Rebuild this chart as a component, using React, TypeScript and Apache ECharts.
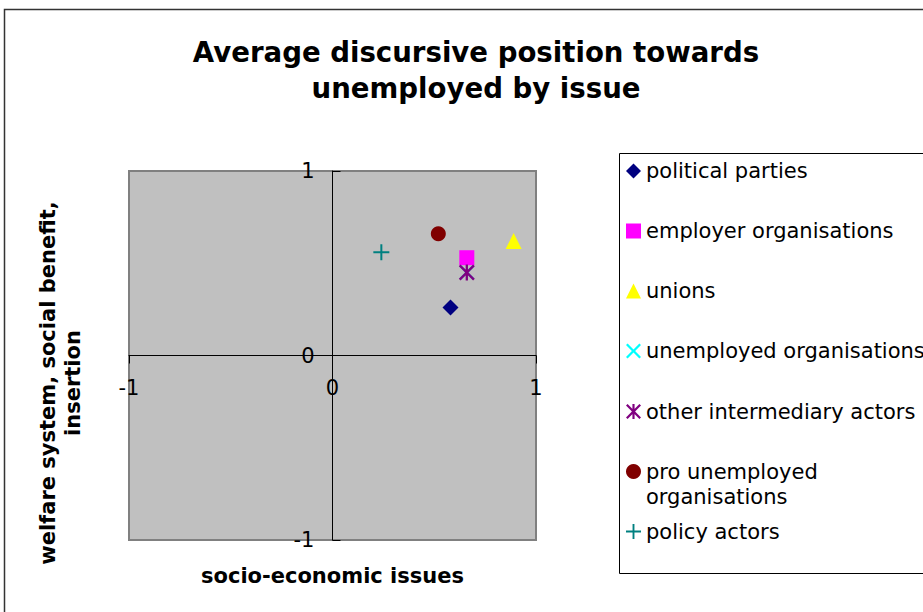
import React, { useEffect, useRef } from 'react';
import * as echarts from 'echarts';

const seriesNames = [
  'political parties',
  'employer organisations',
  'unions',
  'unemployed organisations',
  'other intermediary actors',
  'pro unemployed organisations',
  'policy actors',
];
const xValues = [0.58, 0.66, 0.89, 0.66, 0.66, 0.52, 0.24];
const yValues = [0.26, 0.53, 0.62, 0.45, 0.45, 0.66, 0.56];
const xTicks = [-1, 0, 1];
const yTicks = [-1, 0, 1];

const X_PATH =
  'path://M1.5,0 L7,5.5 L12.5,0 L14,1.5 L8.5,7 L14,12.5 L12.5,14 L7,8.5 L1.5,14 L0,12.5 L5.5,7 L0,1.5 Z';
const STAR_PATH =
  'path://M1.5,0 L7,5.5 L12.5,0 L14,1.5 L8.5,7 L14,12.5 L12.5,14 L7,8.5 L1.5,14 L0,12.5 L5.5,7 L0,1.5 Z M6,0 L8,0 L8,14 L6,14 Z';
const PLUS_PATH = 'path://M7,0 L9,0 L9,7 L16,7 L16,9 L9,9 L9,16 L7,16 L7,9 L0,9 L0,7 L7,7 Z';

const symbols = ['diamond', 'rect', 'triangle', X_PATH, STAR_PATH, 'circle', PLUS_PATH];
const colors = ['#000080', '#FF00FF', '#FFFF00', '#00FFFF', '#800080', '#800000', '#008080'];
const sizes = [16, 15, 16, 15, 16, 15, 16];
const legendCenters = [171, 231, 291, 351, 411.5, 471.5, 531.5];

const F = '"DejaVu Sans", Verdana, sans-serif';

const GRID_LEFT = 129;
const GRID_TOP = 171;
const GRID_W = 407;
const GRID_H = 369;

export default function App() {
  const ref = useRef<HTMLDivElement>(null);
  useEffect(() => {
    if (!ref.current) return;
    const chart = echarts.init(ref.current, undefined, { renderer: 'svg' });
    const legends = seriesNames.map((n, i) => {
      const multi = n === 'pro unemployed organisations';
      return {
        data: [n],
        orient: 'vertical',
        left: 626,
        top: multi ? legendCenters[i] - 37.5 : legendCenters[i] - 12,
        padding: 0,
        itemWidth: 15,
        itemHeight: 15,
        itemGap: 0,
        selectedMode: false,
        formatter: multi ? () => '\npro unemployed\norganisations' : undefined,
        textStyle: multi
          ? { fontFamily: F, fontSize: 21, color: '#000', lineHeight: 25 }
          : { fontFamily: F, fontSize: 21, color: '#000', lineHeight: 24 },
      };
    });
    const option = {
      animation: false,
      backgroundColor: '#ffffff',
      title: {
        text: 'Average discursive position towards\nunemployed by issue',
        left: 476,
        top: 34,
        padding: 0,
        textAlign: 'center',
        textStyle: { fontFamily: F, fontSize: 27.6, fontWeight: 'bold', color: '#000', lineHeight: 36 },
      },
      grid: {
        left: GRID_LEFT,
        top: GRID_TOP,
        width: GRID_W,
        height: GRID_H,
        show: true,
        containLabel: false,
        outerBoundsMode: 'none',
        backgroundColor: '#C0C0C0',
        borderColor: '#808080',
        borderWidth: 2,
      },
      xAxis: {
        type: 'value',
        position: 'bottom',
        offset: -GRID_H / 2,
        min: xTicks[0],
        max: xTicks[xTicks.length - 1],
        interval: 1,
        axisLine: { onZero: false, lineStyle: { color: '#000', width: 1 } },
        axisTick: { show: true, length: 8, lineStyle: { color: '#000', width: 1 } },
        axisLabel: { margin: 22, fontFamily: F, fontSize: 21, color: '#000' },
        splitLine: { show: false },
        name: 'socio-economic issues',
        nameLocation: 'middle',
        nameGap: 210,
        nameTextStyle: { fontFamily: F, fontSize: 21, fontWeight: 'bold', color: '#000' },
      },
      yAxis: {
        type: 'value',
        position: 'left',
        offset: -GRID_W / 2,
        min: yTicks[0],
        max: yTicks[yTicks.length - 1],
        interval: 1,
        axisLine: { onZero: false, lineStyle: { color: '#000', width: 1 } },
        axisTick: { show: true, inside: true, length: 8, lineStyle: { color: '#000', width: 1 } },
        axisLabel: { margin: 18, fontFamily: F, fontSize: 21, color: '#000' },
        splitLine: { show: false },
      },
      graphic: [
        {
          type: 'rect',
          shape: { x: 4.5, y: 9.5, width: 1000, height: 700 },
          style: { fill: 'none', stroke: '#333', lineWidth: 1.5 },
          silent: true,
        },
        {
          type: 'rect',
          shape: { x: 619.5, y: 153.5, width: 400, height: 420 },
          style: { fill: 'none', stroke: '#000', lineWidth: 1 },
          silent: true,
        },
        {
          type: 'text',
          x: 60.5,
          y: 383,
          rotation: Math.PI / 2,
          style: {
            text: 'welfare system, social benefit,\ninsertion',
            fontFamily: F,
            fontSize: 21,
            fontWeight: 'bold',
            fill: '#000',
            align: 'center',
            verticalAlign: 'middle',
            lineHeight: 25,
          },
          silent: true,
        },
      ],
      legend: legends,
      series: seriesNames.map((n, i) => ({
        type: 'scatter',
        name: n,
        data: [[xValues[i], yValues[i]]],
        symbol: symbols[i],
        symbolSize: sizes[i],
        itemStyle: { color: colors[i], opacity: 1 },
      })),
    };
    chart.setOption(option as any);
    return () => chart.dispose();
  }, []);
  return (
    <div
      ref={ref}
      style={{ position: 'fixed', left: 0, top: 0, width: 923, height: 612 }}
    />
  );
}
